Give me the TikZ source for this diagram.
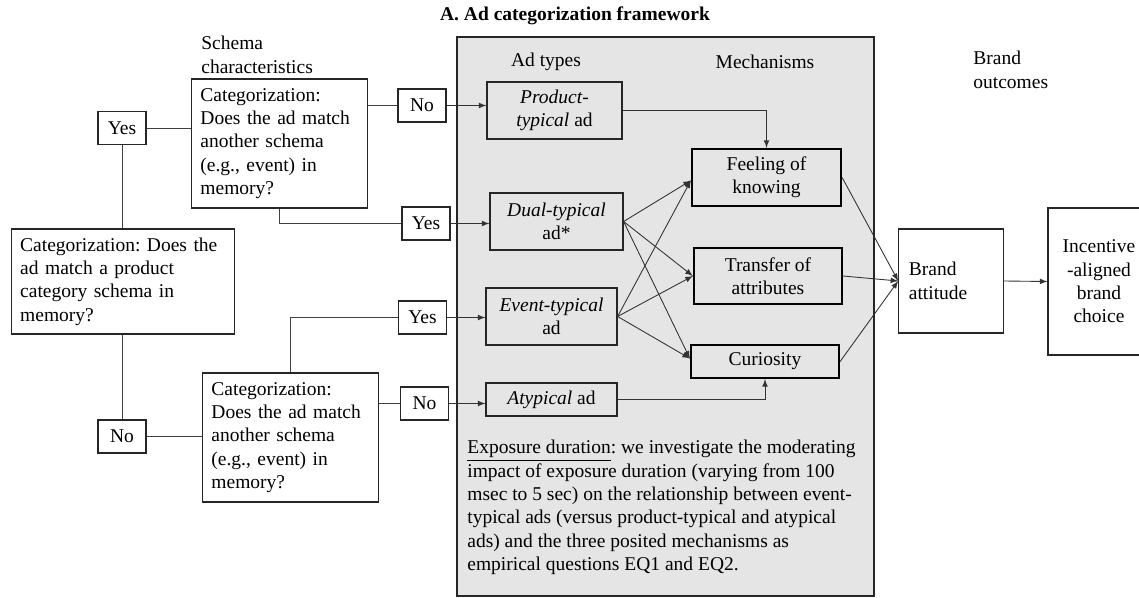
\documentclass[tikz,border=0pt]{standalone}
\usepackage{fontspec}
\setmainfont{Liberation Serif}
\usepackage{tikz}
\usetikzlibrary{arrows,positioning,calc}
\newcommand{\figfont}{\fontsize{11.1}{13.3}\selectfont\frenchspacing}
\tikzset{
  qbox/.style={draw=black!85, line width=0.7pt, align=left, inner xsep=5pt, font=\figfont},
  ansbox/.style={draw=black!85, line width=0.7pt, minimum width=0.96cm, minimum height=0.66cm, inner sep=1pt, font=\figfont},
  adbox/.style={draw=black!85, line width=0.7pt, align=center, inner sep=1pt, font=\figfont},
  mechbox/.style={draw=black, line width=1.3pt, align=center, inner sep=1pt, font=\figfont},
  outbox/.style={draw=black!85, line width=0.7pt, inner sep=1pt, font=\figfont},
  lbl/.style={align=left, inner sep=0pt, font=\figfont},
  link/.style={draw=black!75, line width=0.5pt},
  arr/.style={draw=black!80, line width=0.5pt, -latex}
}
\begin{document}
\begin{tikzpicture}[x=0.02cm, y=-0.02cm]
\useasboundingbox (0,0) rectangle (1139,598);
% shaded middle panel
\draw[fill=black!10, draw=black!85, line width=0.8pt] (457,37) rectangle (874,596);
\node[font=\figfont\bfseries] (title) at (575,16) {A. Ad categorization framework};
% column labels
\node[lbl, anchor=west] (schema) at (201,55) {Schema\\characteristics};
\node[lbl] (adtypes) at (546,62) {Ad types};
\node[lbl] (mechs) at (765,62) {Mechanisms};
\node[lbl, anchor=west] (outcomes) at (973,70) {Brand\\outcomes};
% categorization questions
\node[qbox, text width=117pt, minimum height=2.1cm] (cat0) at (123,281.5) {Categorization: Does the\\ad match a product\\category schema in\\memory?};
\node[qbox, text width=90pt, minimum height=2.58cm] (cat1) at (279.5,143.5) {Categorization:\\Does the ad match\\another schema\\(e.g., event) in\\memory?};
\node[qbox, text width=90pt, minimum height=2.58cm] (cat2) at (290.5,437.5) {Categorization:\\Does the ad match\\another schema\\(e.g., event) in\\memory?};
% answers
\node[ansbox] (yes1) at (122,128) {Yes};
\node[ansbox] (no1) at (122,436.5) {No};
\node[ansbox] (no2) at (422,105.5) {No};
\node[ansbox] (yes2) at (426,223.5) {Yes};
\node[ansbox] (yes3) at (422.5,317.5) {Yes};
\node[ansbox] (no3) at (424.5,403.5) {No};
% ad types
\node[adbox, minimum width=2.7cm, minimum height=1.14cm] (prod) at (554.5,110.5) {\textit{Product-}\\\textit{typical} ad};
\node[adbox, minimum width=2.66cm, minimum height=1.14cm] (dual) at (556.5,221.5) {\textit{Dual-typical}\\ad*};
\node[adbox, minimum width=2.62cm, minimum height=1.14cm] (event) at (551.5,316.5) {\textit{Event-typical}\\ad};
\node[adbox, minimum width=2.62cm, minimum height=0.66cm] (atyp) at (551.5,399.5) {\textit{Atypical} ad};
% mechanisms
\node[mechbox, minimum width=2.98cm, minimum height=1.14cm] (fok) at (766.5,177.5) {Feeling of\\knowing};
\node[mechbox, minimum width=2.96cm, minimum height=1.12cm] (toa) at (768,276) {Transfer of\\attributes};
\node[mechbox, minimum width=2.96cm, minimum height=0.66cm] (cur) at (765,361.5) {Curiosity};
% brand outcomes
\node[outbox, align=left, text width=48pt, inner xsep=5.7pt, minimum height=2.08cm] (att) at (951,281) {Brand\\attitude};
\node[outbox, align=center, minimum width=2.04cm, minimum height=2.94cm] (inc) at (1099,281.5) {Incentive\\-aligned\\brand\\choice};
% moderator
\node[lbl, anchor=north west] (expo) at (467,440) {\underline{Exposure duration}: we investigate the moderating\\impact of exposure duration (varying from 100\\msec to 5 sec) on the relationship between event-\\typical ads (versus product-typical and atypical\\ads) and the three posited mechanisms as\\empirical questions EQ1 and EQ2.};
% decision tree
\draw[link] (yes1.east) -- (yes1.east -| cat1.west);
\draw[link] (yes1.south) -- (yes1.south |- cat0.north);
\draw[link] (cat0.south -| no1.north) -- (no1.north);
\draw[link] (no1.east) -- (no1.east -| cat2.west);
\draw[link] (cat1.east |- no2.west) -- (no2.west);
\draw[link] (cat1.south) |- (yes2.west);
\draw[link] (cat2.north) |- (yes3.west);
\draw[link] (cat2.east |- no3.west) -- (no3.west);
% into ad types
\draw[arr] (no2.east) -- (prod.west |- no2.east);
\draw[arr] (yes2.east) -- (dual.west |- yes2.east);
\draw[arr] (yes3.east) -- (event.west |- yes3.east);
\draw[arr] (no3.east) -- (atyp.west |- no3.east);
% ad types to mechanisms
\draw[arr] (prod.east) -| (fok.north);
\draw[arr] (atyp.east) -| (cur.south);
\foreach \src in {dual,event}{
  \draw[arr] (\src.east) -- ($(fok.west)+(0,3)$);
  \draw[arr] (\src.east) -- (toa.west);
  \draw[arr] (\src.east) -- ($(cur.west)+(0,-3)$);
}
% mechanisms to outcomes
\draw[arr] (fok.east) -- (att.west);
\draw[arr] (toa.east) -- (att.west);
\draw[arr] (cur.east) -- (att.west);
\draw[arr] (att.east) -- (inc.west);
\end{tikzpicture}
\end{document}
